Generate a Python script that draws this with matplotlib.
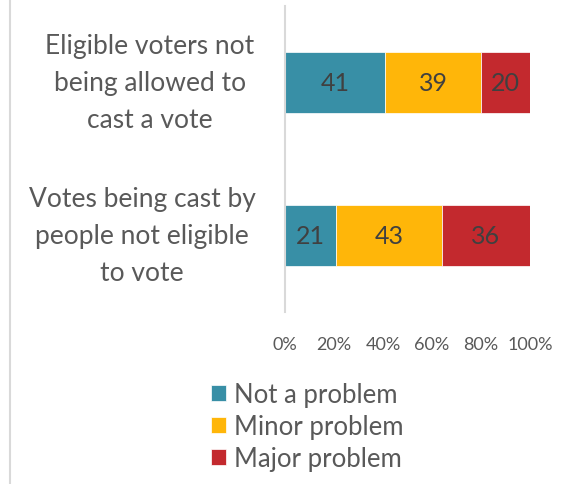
import numpy as np
import matplotlib.pyplot as plt
from matplotlib.lines import Line2D

plt.rcParams['font.family'] = ['Lato', 'DejaVu Sans']

categories = ["Eligible voters not\nbeing allowed to\ncast a vote",
              "Votes being cast by\npeople not eligible\nto vote"]
series = ["Not a problem", "Minor problem", "Major problem"]
not_a_problem = [41, 21]
minor_problem = [39, 43]
major_problem = [20, 36]
colors = ["#388FA6", "#FFB609", "#C3292E"]
xticks = [0, 20, 40, 60, 80, 100]

fig = plt.figure(figsize=(5.81, 4.85), dpi=100)
ax = fig.add_axes([285/581, 1-313/485, 245/581, 306/485])

y = np.arange(len(categories))
left = np.zeros(len(categories))
for name, vals, c in zip(series, [not_a_problem, minor_problem, major_problem], colors):
    vals = np.array(vals, dtype=float)
    bars = ax.barh(y, vals, left=left, height=0.4, color=c, label=name,
                   edgecolor='white', linewidth=0.5)
    for yi, l, v in zip(y, left, vals):
        ax.text(l + v/2, yi, f"{int(v)}", ha='center', va='center',
                fontsize=18, color='#404040')
    left += vals

ax.set_ylim(1.5, -0.5)
ax.set_xlim(0, 100)
ax.set_xticks(xticks)
ax.set_xticklabels([f"{t}%" for t in xticks], fontsize=13, color='#595959')
ax.tick_params(axis='x', length=0, pad=17)
ax.set_yticks([])
for s in ['top', 'right', 'bottom']:
    ax.spines[s].set_visible(False)
ax.spines['left'].set_color('#d9d9d9')
ax.spines['left'].set_linewidth(1.5)

# wrapped category labels, centred left of the axis
label_offsets = [135, 143]
for yi, cat, off in zip(y, categories, label_offsets):
    ax.text(-off/245*100, yi, cat, ha='center', va='center', fontsize=19,
            color='#595959', linespacing=1.6)

# page border line on the left
fig.add_artist(Line2D([9.5/581, 9.5/581], [0, 1], color='#d9d9d9', linewidth=1.5))

handles, labels = ax.get_legend_handles_labels()
fig.legend(handles, labels, loc='upper left', bbox_to_anchor=(211/581, 1-383/485),
           frameon=False, fontsize=18.5, handlelength=0.6, handleheight=0.6,
           handletextpad=0.3, labelspacing=0.28, labelcolor='#595959',
           borderpad=0, borderaxespad=0)

fig.savefig("out.png", dpi=100)
